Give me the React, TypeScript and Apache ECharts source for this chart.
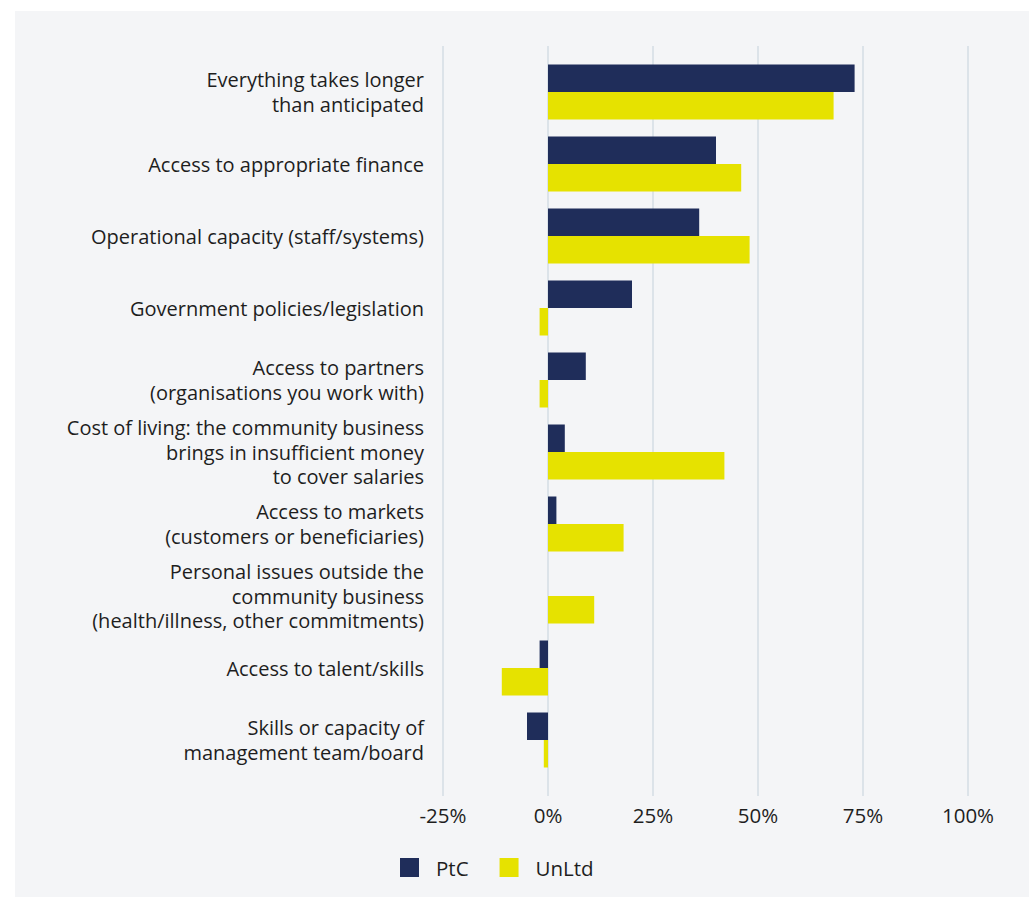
import React, { useEffect, useRef } from "react";
import * as echarts from "echarts";

const categories = [
  "Everything takes longer\nthan anticipated",
  "Access to appropriate finance",
  "Operational capacity (staff/systems)",
  "Government policies/legislation",
  "Access to partners\n(organisations you work with)",
  "Cost of living: the community business\nbrings in insufficient money\nto cover salaries",
  "Access to markets\n(customers or beneficiaries)",
  "Personal issues outside the\ncommunity business\n(health/illness, other commitments)",
  "Access to talent/skills",
  "Skills or capacity of\nmanagement team/board",
];

const ptcValues = [73, 40, 36, 20, 9, 4, 2, 0, -2, -5];
const unltdValues = [68, 46, 48, -2, -2, 42, 18, 11, -11, -1];

const seriesNames = ["PtC", "UnLtd"];
const seriesColors = ["#1f2d5a", "#e6e200"];

const FONT = "Open Sans";
const GRID_COLOR = "#d5dde4";
const TEXT_COLOR = "#1e1e1e";

export default function App() {
  const ref = useRef<HTMLDivElement>(null);

  useEffect(() => {
    if (!ref.current) return;
    const chart = echarts.init(ref.current, undefined, { renderer: "svg" });
    const xCommon = {
      type: "value" as const,
      min: -25,
      max: 100,
      interval: 25,
    };
    chart.setOption({
      animation: false,
      textStyle: { fontFamily: FONT },
      grid: { left: 443, right: 61, top: 56, height: 720 },
      legend: {
        data: seriesNames,
        left: 395,
        top: 852,
        itemWidth: 19,
        itemHeight: 19,
        itemGap: 31,
        icon: "rect",
        textStyle: {
          fontFamily: FONT,
          fontSize: 20.5,
          color: TEXT_COLOR,
          padding: [0, 0, 0, 12],
        },
      },
      xAxis: [
        {
          ...xCommon,
          position: "bottom",
          axisLine: { show: false },
          axisTick: {
            show: true,
            length: 20,
            lineStyle: { color: GRID_COLOR, width: 1.5 },
          },
          splitLine: { show: true, lineStyle: { color: GRID_COLOR, width: 1.5 } },
          axisLabel: {
            formatter: "{value}%",
            fontFamily: FONT,
            fontSize: 20.5,
            color: TEXT_COLOR,
            margin: 28,
          },
        },
        {
          ...xCommon,
          position: "top",
          axisLine: { show: false },
          axisTick: {
            show: true,
            length: 10,
            lineStyle: { color: GRID_COLOR, width: 1.5 },
          },
          splitLine: { show: false },
          axisLabel: { show: false },
        },
      ],
      yAxis: {
        type: "category",
        data: categories,
        inverse: true,
        axisLine: { show: false },
        axisTick: { show: false },
        axisLabel: {
          fontFamily: FONT,
          fontSize: 20,
          lineHeight: 24.5,
          color: TEXT_COLOR,
          margin: 19,
          align: "right",
        },
      },
      series: [
        {
          name: seriesNames[0],
          type: "bar",
          data: ptcValues,
          barWidth: 27.5,
          barGap: "0%",
          itemStyle: { color: seriesColors[0] },
        },
        {
          name: seriesNames[1],
          type: "bar",
          data: unltdValues,
          barWidth: 27.5,
          barGap: "0%",
          itemStyle: { color: seriesColors[1] },
        },
      ],
    });
    return () => chart.dispose();
  }, []);

  return (
    <div
      style={{
        position: "absolute",
        left: 0,
        top: 0,
        width: 1029,
        height: 897,
        background: "#ffffff",
      }}
    >
      <div
        style={{
          position: "absolute",
          left: 15,
          top: 11,
          width: 1014,
          height: 886,
          background: "#f4f5f7",
        }}
      />
      <div
        ref={ref}
        style={{ position: "absolute", left: 0, top: 0, width: 1029, height: 897 }}
      />
    </div>
  );
}
